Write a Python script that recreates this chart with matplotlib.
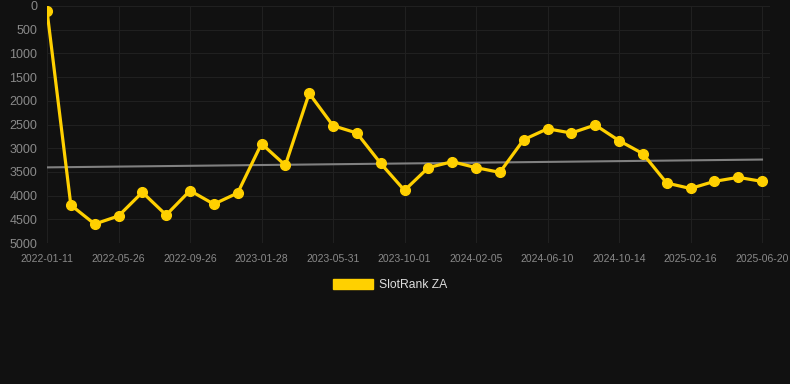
import matplotlib
matplotlib.use("Agg")
import matplotlib.pyplot as plt
from matplotlib.patches import Patch
import numpy as np

ranks = [100, 4200, 4600, 4430, 3930, 4410, 3895, 4180, 3945, 2905, 3360,
         1843, 2525, 2680, 3320, 3890, 3410, 3285, 3410, 3510, 2820, 2590,
         2680, 2510, 2840, 3115, 3735, 3850, 3700, 3615, 3700]
tick_labels = ["2022-01-11", "2022-05-26", "2022-09-26", "2023-01-28",
               "2023-05-31", "2023-10-01", "2024-02-05", "2024-06-10",
               "2024-10-14", "2025-02-16", "2025-06-20"]
series_name = "SlotRank ZA"

plt.rcParams['font.family'] = ['Liberation Sans', 'DejaVu Sans']

bg = "#111111"
gold = "#FFD000"

fig = plt.figure(figsize=(7.9, 3.84), dpi=100, facecolor=bg)
ax = fig.add_axes([47 / 790, 1 - 243 / 384, 723 / 790, 237 / 384])
ax.set_facecolor(bg)

x = np.arange(len(ranks))
coef = np.polyfit(x, ranks, 1)
ax.plot(x, np.polyval(coef, x), color="#808080", lw=1.5, zorder=2)
ax.plot(x, ranks, color=gold, lw=2.3, marker="o", ms=7, zorder=3)

ax.set_ylim(5000, 0)
ax.set_xlim(0, 30 * 723 / 715)
ax.set_yticks(range(0, 5001, 500))
ax.set_xticks(x[::3])
ax.set_xticklabels(tick_labels)
ax.grid(True, color="#202020", lw=0.8)
for s in ax.spines.values():
    s.set_visible(False)
ax.tick_params(axis="y", colors="#8a8a8a", labelsize=9, length=0, pad=7)
ax.tick_params(axis="x", colors="#8a8a8a", labelsize=7.5, length=0, pad=8)

fig.legend(handles=[Patch(color=gold, label=series_name)],
           loc="center", bbox_to_anchor=(0.494, 0.258), frameon=False,
           labelcolor="#dddddd", fontsize=8.7, handlelength=3.3,
           handleheight=0.9, handletextpad=0.5)

fig.savefig("out.png", dpi=100, facecolor=bg)
